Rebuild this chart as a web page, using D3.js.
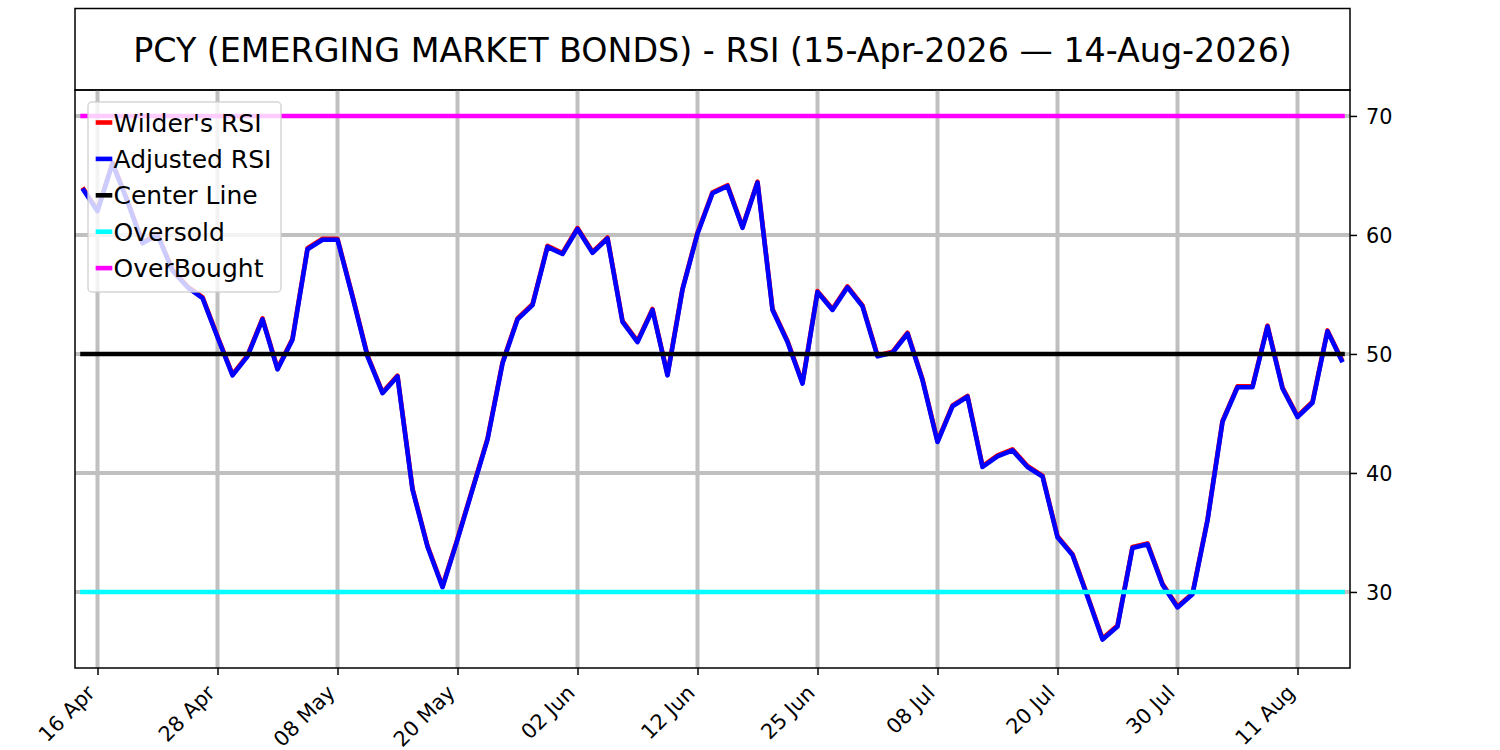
<!DOCTYPE html>
<html>
<head>
<meta charset="utf-8">
<script src="https://cdn.jsdelivr.net/npm/d3@7"></script>
<style>
  html, body { margin: 0; padding: 0; background: #fff; }
  svg { display: block; font-family: 'DejaVu Sans', sans-serif; }
</style>
</head>
<body>
<div id="chart"></div>
<script>
// RSI chart for PCY, one point per trading day (15 Apr 2026 .. 14 Aug 2026)

// x tick labels and the trading-day index they sit on
const tickLabels = ['16 Apr', '28 Apr', '08 May', '20 May', '02 Jun', '12 Jun', '25 Jun', '08 Jul', '20 Jul', '30 Jul', '11 Aug']
const tickIndex = [1, 9, 17, 25, 33, 41, 49, 57, 65, 73, 81]

// right axis ticks
const yTicks = [30, 40, 50, 60, 70]

// Wilder's RSI (red, drawn underneath)
const wilderRsi = [
  63.98, 62.08, 66.08, 62.88, 59.38, 60.08, 57.08, 55.68, 54.78, 51.48,
  48.28, 49.88, 52.98, 48.78, 51.28, 58.88, 59.68, 59.68, 54.88, 49.88,
  46.78, 48.18, 38.68, 33.88, 30.48, 34.48, 38.68, 42.88, 49.28, 52.98,
  54.18, 59.08, 58.48, 60.58, 58.58, 59.78, 52.78, 51.08, 53.78, 48.28,
  55.48, 60.18, 63.58, 64.18, 60.68, 64.48, 53.78, 51.08, 47.58, 55.28,
  53.78, 55.68, 54.08, 49.88, 50.18, 51.78, 47.88, 42.68, 45.68, 46.48,
  40.58, 41.48, 41.98, 40.58, 39.78, 34.68, 33.18, 29.68, 26.08, 27.18,
  33.78, 34.08, 30.68, 28.78, 29.88, 36.08, 44.38, 47.28, 47.28, 52.38,
  47.18, 44.78, 45.98, 51.98, 49.38
]

// Adjusted RSI (blue, drawn on top)
const adjustedRsi = [
  63.9, 62.0, 66.0, 62.8, 59.3, 60.0, 57.0, 55.6, 54.7, 51.4,
  48.2, 49.8, 52.9, 48.7, 51.2, 58.8, 59.6, 59.6, 54.8, 49.8,
  46.7, 48.1, 38.6, 33.8, 30.4, 34.4, 38.6, 42.8, 49.2, 52.9,
  54.1, 59.0, 58.4, 60.5, 58.5, 59.7, 52.7, 51.0, 53.7, 48.2,
  55.4, 60.1, 63.5, 64.1, 60.6, 64.4, 53.7, 51.0, 47.5, 55.2,
  53.7, 55.6, 54.0, 49.8, 50.1, 51.7, 47.8, 42.6, 45.6, 46.4,
  40.5, 41.4, 41.9, 40.5, 39.7, 34.6, 33.1, 29.6, 26.0, 27.1,
  33.7, 34.0, 30.6, 28.7, 29.8, 36.0, 44.3, 47.2, 47.2, 52.3,
  47.1, 44.7, 45.9, 51.9, 49.3
]

// reference levels
const levelNames = ['Center Line', 'Oversold', 'OverBought']
const levelValues = [50, 30, 70]
const levelColors = ['#000000', '#00ffff', '#ff00ff']

const title = 'PCY (EMERGING MARKET BONDS) - RSI (15-Apr-2026 \u2014 14-Aug-2026)'

// Layout
const width = 1500
const height = 750
const plot = { left: 75, right: 1350, top: 90, bottom: 668 }
const gridColor = '#c0c0c0'
const lineWidth = 4.6

const svg = d3
  .select('#chart')
  .append('svg')
  .attr('width', width)
  .attr('height', height)

// Scales: one unit per trading day
const x = d3
  .scaleLinear()
  .domain([-0.5, adjustedRsi.length - 0.5])
  .range([plot.left, plot.right])

const y = d3
  .scaleLinear()
  .domain([23.61, 72.18])
  .range([plot.bottom, plot.top])

// Title box
svg
  .append('rect')
  .attr('x', plot.left)
  .attr('y', 8.5)
  .attr('width', plot.right - plot.left)
  .attr('height', plot.top - 8.5)
  .attr('fill', 'none')
  .attr('stroke', '#000')
  .attr('stroke-width', 1.5)

svg
  .append('text')
  .attr('x', (plot.left + plot.right) / 2)
  .attr('y', 61.5)
  .attr('text-anchor', 'middle')
  .attr('font-size', '33.3px')
  .attr('fill', '#000')
  .text(title)

// Clip everything inside the axes
svg
  .append('clipPath')
  .attr('id', 'plot-clip')
  .append('rect')
  .attr('x', plot.left)
  .attr('y', plot.top)
  .attr('width', plot.right - plot.left)
  .attr('height', plot.bottom - plot.top)

const g = svg.append('g').attr('clip-path', 'url(#plot-clip)')

// Grid
g.selectAll('.vgrid')
  .data(tickIndex)
  .join('line')
  .attr('class', 'vgrid')
  .attr('x1', (d) => x(d))
  .attr('x2', (d) => x(d))
  .attr('y1', plot.top)
  .attr('y2', plot.bottom)
  .attr('stroke', gridColor)
  .attr('stroke-width', 4)

g.selectAll('.hgrid')
  .data(yTicks)
  .join('line')
  .attr('class', 'hgrid')
  .attr('x1', plot.left)
  .attr('x2', plot.right)
  .attr('y1', (d) => y(d))
  .attr('y2', (d) => y(d))
  .attr('stroke', gridColor)
  .attr('stroke-width', 4)

// RSI lines
const line = d3
  .line()
  .x((d, i) => x(i))
  .y((d) => y(d))

g.append('path')
  .datum(wilderRsi)
  .attr('d', line)
  .attr('fill', 'none')
  .attr('stroke', '#ff0000')
  .attr('stroke-width', lineWidth)
  .attr('stroke-linejoin', 'round')

g.append('path')
  .datum(adjustedRsi)
  .attr('d', line)
  .attr('fill', 'none')
  .attr('stroke', '#0000ff')
  .attr('stroke-width', lineWidth)
  .attr('stroke-linejoin', 'round')

// Level lines span the same days as the data
const lastIndex = adjustedRsi.length - 1
levelValues.forEach((v, k) => {
  g.append('line')
    .attr('x1', x(0))
    .attr('x2', x(lastIndex))
    .attr('y1', y(v))
    .attr('y2', y(v))
    .attr('stroke', levelColors[k])
    .attr('stroke-width', lineWidth)
    .attr('stroke-linecap', 'square')
})

// Axes
const xAxis = svg
  .append('g')
  .attr('transform', `translate(0,${plot.bottom})`)
  .call(
    d3
      .axisBottom(x)
      .tickValues(tickIndex)
      .tickFormat((d, i) => tickLabels[i])
      .tickSize(7)
      .tickSizeOuter(0)
  )

xAxis.select('.domain').remove()
xAxis.selectAll('line').attr('stroke', '#000').attr('stroke-width', 1.5)
xAxis
  .selectAll('text')
  .attr('x', 0)
  .attr('y', 0)
  .attr('dy', '0.35em')
  .attr('text-anchor', 'end')
  .attr('transform', 'translate(-7,21) rotate(-45)')
  .attr('font-size', '20.8px')
  .attr('font-family', "'DejaVu Sans', sans-serif")
  .attr('fill', '#000')

const yAxis = svg
  .append('g')
  .attr('transform', `translate(${plot.right},0)`)
  .call(d3.axisRight(y).tickValues(yTicks).tickSize(7).tickPadding(9).tickSizeOuter(0))

yAxis.select('.domain').remove()
yAxis.selectAll('line').attr('stroke', '#000').attr('stroke-width', 1.5)
yAxis
  .selectAll('text')
  .attr('dy', '0.36em')
  .attr('font-size', '20.8px')
  .attr('font-family', "'DejaVu Sans', sans-serif")
  .attr('fill', '#000')

// Spines
svg
  .append('rect')
  .attr('x', plot.left)
  .attr('y', plot.top)
  .attr('width', plot.right - plot.left)
  .attr('height', plot.bottom - plot.top)
  .attr('fill', 'none')
  .attr('stroke', '#000')
  .attr('stroke-width', 1.5)

// Legend (semi-transparent frame, lines show through)
const legendNames = ["Wilder's RSI", 'Adjusted RSI'].concat(levelNames)
const legendColors = ['#ff0000', '#0000ff'].concat(levelColors)

const legend = svg.append('g').attr('transform', 'translate(88,102)')

legend
  .append('rect')
  .attr('width', 193)
  .attr('height', 190)
  .attr('rx', 4)
  .attr('fill', '#fff')
  .attr('fill-opacity', 0.8)
  .attr('stroke', '#cccccc')
  .attr('stroke-opacity', 0.8)
  .attr('stroke-width', 1.5)

const rows = legend
  .selectAll('.legend-row')
  .data(legendNames)
  .join('g')
  .attr('class', 'legend-row')
  .attr('transform', (d, i) => `translate(0,${20.5 + i * 36.4})`)

rows
  .append('line')
  .attr('x1', 7.7)
  .attr('x2', 24.3)
  .attr('stroke', (d, i) => legendColors[i])
  .attr('stroke-width', lineWidth)

rows
  .append('text')
  .attr('x', 25.5)
  .attr('y', 9.1)
  .attr('font-size', '25px')
  .attr('fill', '#000')
  .text((d) => d)
</script>
</body>
</html>
